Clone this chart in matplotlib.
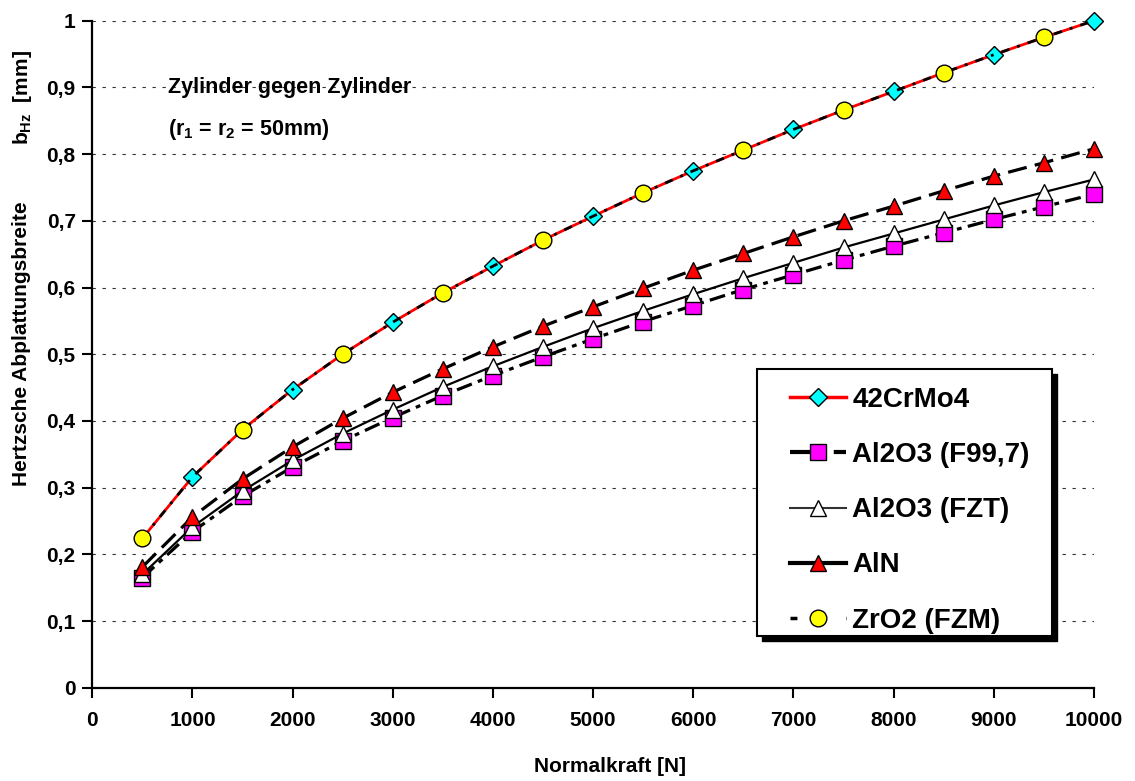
import matplotlib
matplotlib.use('Agg')
import matplotlib.pyplot as plt
from matplotlib.lines import Line2D
from matplotlib.patches import Rectangle
from matplotlib.ticker import FuncFormatter

plt.rcParams['font.family'] = ['Liberation Sans', 'DejaVu Sans']
plt.rcParams['font.weight'] = 'bold'
plt.rcParams['mathtext.fontset'] = 'custom'
plt.rcParams['mathtext.rm'] = 'Liberation Sans:bold'
plt.rcParams['mathtext.default'] = 'rm'

# Normalkraft [N]
kraft = [500, 1000, 1500, 2000, 2500, 3000, 3500, 4000, 4500, 5000,
         5500, 6000, 6500, 7000, 7500, 8000, 8500, 9000, 9500, 10000]

# Hertzsche Abplattungsbreite b_Hz [mm]
crmo = [0.224, 0.316, 0.387, 0.447, 0.500, 0.548, 0.592, 0.632, 0.671, 0.707,
        0.742, 0.775, 0.806, 0.837, 0.866, 0.894, 0.922, 0.949, 0.975, 1.000]
zro2 = [0.224, 0.316, 0.387, 0.447, 0.500, 0.548, 0.592, 0.632, 0.671, 0.707,
        0.742, 0.775, 0.806, 0.837, 0.866, 0.894, 0.922, 0.949, 0.975, 1.000]
f997 = [0.165, 0.234, 0.287, 0.331, 0.370, 0.405, 0.438, 0.468, 0.496, 0.523,
        0.549, 0.573, 0.597, 0.619, 0.641, 0.662, 0.682, 0.702, 0.721, 0.740]
fzt = [0.170, 0.241, 0.295, 0.341, 0.381, 0.417, 0.451, 0.482, 0.511, 0.539,
       0.565, 0.590, 0.614, 0.637, 0.660, 0.681, 0.702, 0.723, 0.743, 0.762]
aln = [0.181, 0.256, 0.313, 0.361, 0.404, 0.443, 0.478, 0.511, 0.542, 0.571,
       0.599, 0.626, 0.651, 0.676, 0.700, 0.722, 0.745, 0.767, 0.787, 0.808]

labels = ['42CrMo4', 'Al2O3 (F99,7)', 'Al2O3 (FZT)', 'AlN', 'ZrO2 (FZM)']

W, H = 1135, 781
fig = plt.figure(figsize=(W / 100, H / 100), dpi=100)
ax = fig.add_axes([92.3 / W, 1 - 687.7 / H, (1094 - 92.3) / W, (687.7 - 20.7) / H])

ms = 11
dms = 9
# 42CrMo4
ax.plot(kraft, crmo, color='red', lw=2.0, zorder=3, clip_on=False)
ax.plot(kraft[1::2], crmo[1::2], ls='none', marker='D', ms=dms, mfc='cyan',
        mec='black', mew=1.0, zorder=3, clip_on=False)
# Al2O3 (F99,7)
ax.plot(kraft, f997, color='black', lw=2.3, dashes=(5, 2, 1.5, 2), zorder=4, clip_on=False,
        marker='s', ms=ms, mfc='magenta', mec='black', mew=1.0)
# Al2O3 (FZT)
ax.plot(kraft, fzt, color='black', lw=1.6, zorder=5, clip_on=False,
        marker='^', ms=ms + 1, mfc='white', mec='black', mew=1.0)
# AlN
ax.plot(kraft, aln, color='black', lw=2.3, dashes=(6, 2.6), zorder=6, clip_on=False,
        marker='^', ms=ms + 1, mfc='red', mec='black', mew=1.0)
# ZrO2 (FZM)
ax.plot(kraft, zro2, color='black', lw=2.0, dashes=(3, 3, 1, 3), zorder=7, clip_on=False)
ax.plot(kraft[0::2], zro2[0::2], ls='none', marker='o', ms=ms + 1, mfc='yellow',
        mec='black', mew=1.0, zorder=7, clip_on=False)

ax.set_xlim(0, 10000)
ax.set_ylim(0, 1)
ax.set_xticks(range(0, 10001, 1000))
ax.set_yticks([i / 10 for i in range(11)])
ax.yaxis.set_major_formatter(FuncFormatter(lambda v, p: ('%.1f' % v).replace('.', ',') if v not in (0, 1) else '%d' % v))
ax.tick_params(axis='both', labelsize=15, direction='out', length=7, width=1.5, color='black')
ax.tick_params(axis='x', pad=10)
ax.tick_params(axis='y', pad=5)
for s in ['top', 'right']:
    ax.spines[s].set_visible(False)
for s in ['left', 'bottom']:
    ax.spines[s].set_linewidth(1.6)
ax.yaxis.grid(True, color='#333333', lw=0.8, dashes=(3, 6))
ax.set_axisbelow(True)

fig.text(168 / W, 1 - 87 / H, 'Zylinder gegen Zylinder', fontsize=15.5, va='center', ha='left')
fig.text(168 / W, 1 - 130 / H, '(r$_1$ = r$_2$ = 50mm)', fontsize=15.5, va='center', ha='left')
fig.text(610 / W, 1 - 767 / H, 'Normalkraft [N]', fontsize=15, va='center', ha='center')
fig.text(22 / W, 1 - 344 / H, 'Hertzsche Abplattungsbreite', fontsize=15, rotation=90,
         va='center', ha='center')
fig.text(22 / W, 1 - 98 / H, 'b$_{Hz}$  [mm]', fontsize=15, rotation=90,
         va='center', ha='center')

# legend box with shadow
lx0, ly0, lx1, ly1 = 757, 369, 1052, 636
fig.patches.append(Rectangle(((lx0 + 5) / W, 1 - (ly1 + 5) / H), (lx1 - lx0) / W, (ly1 - ly0) / H,
                             transform=fig.transFigure, facecolor='black', edgecolor='black', zorder=3))
fig.patches.append(Rectangle((lx0 / W, 1 - ly1 / H), (lx1 - lx0) / W, (ly1 - ly0) / H,
                             transform=fig.transFigure, facecolor='white', edgecolor='black', lw=1.5, zorder=4))

handles = [
    Line2D([], [], color='red', lw=2.5, marker='D', ms=dms, mfc='cyan', mec='black'),
    Line2D([], [], color='black', lw=3, dashes=(5, 2, 1.5, 2), marker='s', ms=ms, mfc='magenta', mec='black'),
    Line2D([], [], color='#333333', lw=1.5, marker='^', ms=ms + 1, mfc='white', mec='black'),
    Line2D([], [], color='black', lw=3, marker='^', ms=ms + 1, mfc='red', mec='black'),
    Line2D([], [], color='black', lw=2.5, dashes=(2, 6), marker='o', ms=ms + 1, mfc='yellow', mec='black'),
]
leg = fig.legend(handles, labels, loc='upper left', bbox_to_anchor=(790 / W, 1 - 387 / H),
                 frameon=False, fontsize=20, borderpad=0, borderaxespad=0, labelspacing=1.05,
                 handlelength=2.0, handletextpad=0.25, numpoints=1)
leg.set_zorder(6)

fig.savefig('out.png', dpi=100)
